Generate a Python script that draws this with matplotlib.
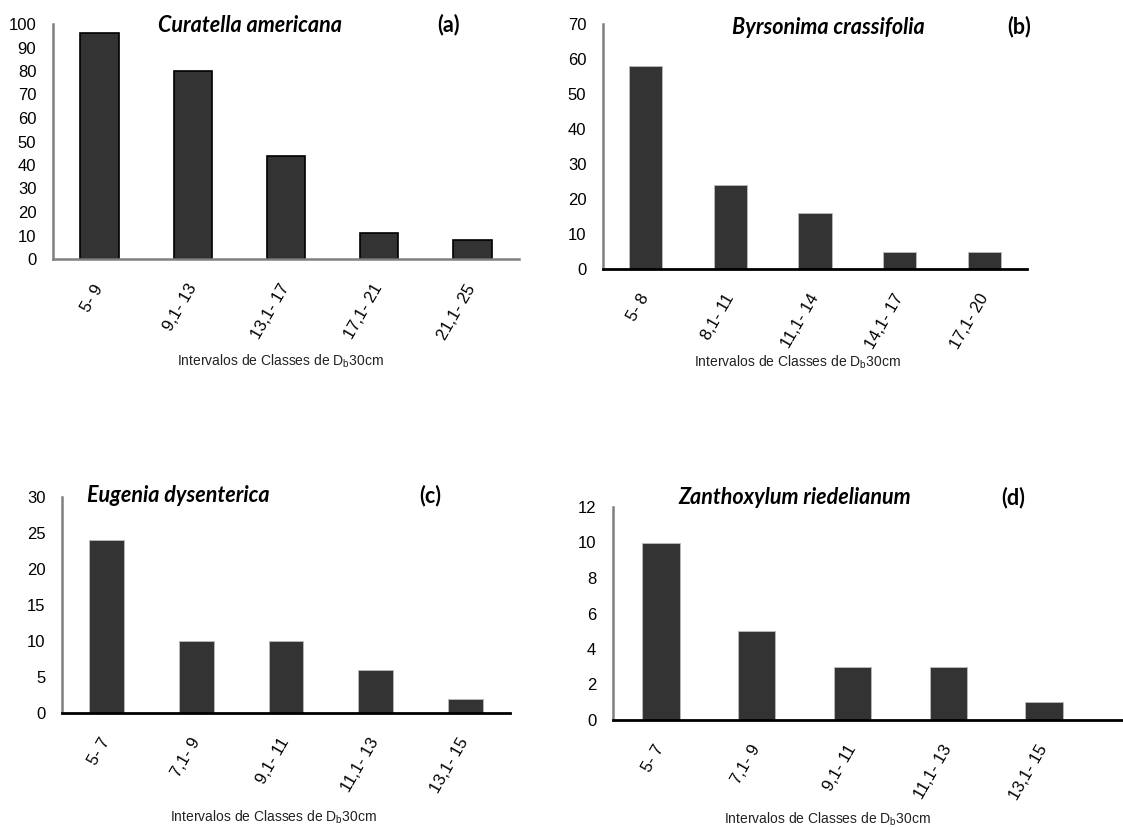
import matplotlib
matplotlib.use("Agg")
import matplotlib.pyplot as plt

plt.rcParams['font.family'] = ['Liberation Sans', 'DejaVu Sans']

# ---- data ----
cats_a = ["5- 9", "9,1- 13", "13,1- 17", "17,1- 21", "21,1- 25"]
vals_a = [96, 80, 44, 11, 8]
cats_b = ["5- 8", "8,1- 11", "11,1- 14", "14,1- 17", "17,1- 20"]
vals_b = [58, 24, 16, 5, 5]
cats_c = ["5- 7", "7,1- 9", "9,1- 11", "11,1- 13", "13,1- 15"]
vals_c = [24, 10, 10, 6, 2]
cats_d = ["5- 7", "7,1- 9", "9,1- 11", "11,1- 13", "13,1- 15"]
vals_d = [10, 5, 3, 3, 1]

titles = ["Curatella americana", "Byrsonima crassifolia",
          "Eugenia dysenterica", "Zanthoxylum riedelianum"]
letters = ["(a)", "(b)", "(c)", "(d)"]
xlabel = r"Intervalos de Classes de $\mathregular{D_b}$30cm"

W, H = 1123, 827
fig = plt.figure(figsize=(W / 100, H / 100), dpi=100)

def fx(px):
    return px / W

def fy(py):
    return 1 - py / H

panels = [
    dict(cats=cats_a, vals=vals_a, box=(53, 24, 519, 259), ylim=100, step=10,
         width=0.41, edge='black', lw=1.2, bottom_col='#808080', bottom_lw=1.8,
         xlim_extra=0.0, title_xy=(250, 25), let_xy=(448, 25), xl_xy=(280, 361)),
    dict(cats=cats_b, vals=vals_b, box=(603, 24, 1027, 269), ylim=70, step=10,
         width=0.39, edge='#bbbbbb', lw=0.6, bottom_col='black', bottom_lw=2.0,
         xlim_extra=0.0, title_xy=(828, 27), let_xy=(1019, 27), xl_xy=(797, 362)),
    dict(cats=cats_c, vals=vals_c, box=(62, 497, 510, 713), ylim=30, step=5,
         width=0.39, edge='#bbbbbb', lw=0.6, bottom_col='black', bottom_lw=2.0,
         xlim_extra=0.0, title_xy=(178, 496), let_xy=(430, 496), xl_xy=(273, 817)),
    dict(cats=cats_d, vals=vals_d, box=(613, 507, 1092, 720), ylim=12, step=2,
         width=0.39, edge='#bbbbbb', lw=0.6, bottom_col='black', bottom_lw=2.0,
         xlim_extra=0.32, title_xy=(795, 498), let_xy=(1013, 498), xl_xy=(827, 819)),
]

for i, p in enumerate(panels):
    x0, y0, x1, y1 = p['box']
    span = x1 - x0
    extra_px = span / 5 * p['xlim_extra']
    ax = fig.add_axes([fx(x0), fy(y1), fx(span + extra_px), fy(y0) - fy(y1)])
    xs = list(range(len(p['cats'])))
    ax.bar(xs, p['vals'], width=p['width'], color='#333333',
           edgecolor=p['edge'], linewidth=p['lw'], zorder=2)
    ax.set_xlim(-0.5, len(xs) - 0.5 + p['xlim_extra'])
    ax.set_ylim(0, p['ylim'])
    ax.set_yticks(list(range(0, p['ylim'] + 1, p['step'])))
    ax.set_xticks(xs)
    ax.set_xticklabels(p['cats'], rotation=60, ha='right', va='center',
                       rotation_mode='anchor', fontsize=12)
    ax.tick_params(axis='x', length=0, pad=19)
    ax.tick_params(axis='y', length=0, pad=12, labelsize=12)
    for s in ['top', 'right']:
        ax.spines[s].set_visible(False)
    ax.spines['left'].set_color('#808080')
    ax.spines['left'].set_linewidth(1.8)
    ax.spines['bottom'].set_color(p['bottom_col'])
    ax.spines['bottom'].set_linewidth(p['bottom_lw'])
    ax.set_facecolor('none')

    tx, ty = p['title_xy']
    fig.text(fx(tx), fy(ty), titles[i], ha='center', va='center',
             fontsize=15.5, fontweight='bold', style='italic', family='Lato')
    lx, ly = p['let_xy']
    fig.text(fx(lx), fy(ly), letters[i], ha='center', va='center',
             fontsize=15.5, fontweight='bold', family='Lato')
    xx, xy = p['xl_xy']
    fig.text(fx(xx), fy(xy), xlabel, ha='center', va='center', fontsize=10,
             color='#222222')

fig.savefig("out.png", dpi=100, facecolor='white')
